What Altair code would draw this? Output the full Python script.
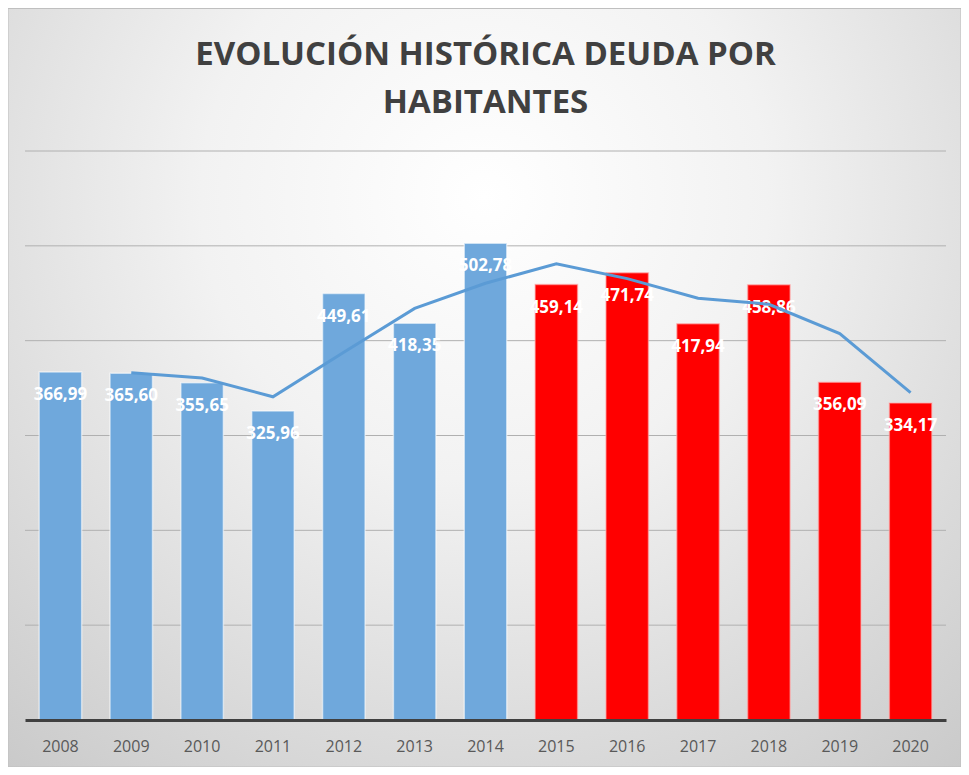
import altair as alt
import pandas as pd

anios = ["2008", "2009", "2010", "2011", "2012", "2013", "2014",
         "2015", "2016", "2017", "2018", "2019", "2020"]
deuda = [366.99, 365.60, 355.65, 325.96, 449.61, 418.35, 502.78,
         459.14, 471.74, 417.94, 458.86, 356.09, 334.17]
periodo = ["A"] * 7 + ["B"] * 6
etiquetas = ["366,99", "365,60", "355,65", "325,96", "449,61", "418,35", "502,78",
             "459,14", "471,74", "417,94", "458,86", "356,09", "334,17"]
lineas_guia = [100, 200, 300, 400, 500, 600]

df = pd.DataFrame({"anio": anios, "deuda": deuda, "periodo": periodo, "etiqueta": etiquetas})
grid_df = pd.DataFrame({"v": lineas_guia})

W, H = 921, 569
PL, PT, PR, PB = 17, 143, 15, 47

xenc = alt.X("anio:N", sort=anios,
             scale=alt.Scale(paddingInner=0.4, paddingOuter=0.2),
             axis=alt.Axis(title=None, labelAngle=0, ticks=False, domainColor="#404040",
                           domainWidth=3, labelColor="#595959", labelFont="Open Sans",
                           labelFontSize=16, labelPadding=18, zindex=1))
yscale = alt.Scale(domain=[0, 600], nice=False, zero=True)

fondo = alt.Chart(alt.Data(values=[{}])).mark_rect(
    fill={"gradient": "radial",
          "x1": 0.5, "y1": 0.3, "r1": 0.0,
          "x2": 0.5, "y2": 0.3, "r2": 0.85,
          "stops": [{"offset": 0, "color": "#FFFFFF"},
                    {"offset": 0.35, "color": "#F2F2F2"},
                    {"offset": 1, "color": "#C4C4C4"}]},
    stroke="#BFBFBF", strokeWidth=1
).encode(x=alt.value(-PL), x2=alt.value(W + PR), y=alt.value(-PT + 0.5), y2=alt.value(H + PB))

guia = alt.Chart(grid_df).mark_rule(color="#B0B0B0", strokeWidth=1).encode(
    y=alt.Y("v:Q", scale=yscale, axis=None)
)

barras = alt.Chart(df).mark_bar(strokeWidth=1.5, strokeOpacity=0.55).encode(
    x=xenc,
    y=alt.Y("deuda:Q", scale=yscale, axis=None),
    color=alt.Color("periodo:N", scale=alt.Scale(domain=["A", "B"], range=["#6FA8DC", "#FF0000"]), legend=None),
    stroke=alt.Stroke("periodo:N", scale=alt.Scale(domain=["A", "B"], range=["#FFFFFF", "#FFB0B0"]), legend=None),
)

textos = alt.Chart(df).mark_text(color="white", font="Open Sans", fontWeight="bold",
                                 fontSize=17, baseline="middle", dy=23).encode(
    x=alt.X("anio:N", sort=anios),
    y=alt.Y("deuda:Q", scale=yscale),
    text="etiqueta:N",
)

linea = alt.Chart(df).transform_window(
    media="mean(deuda)", frame=[-1, 0], sort=[alt.SortField("anio")]
).transform_filter(alt.datum.anio != "2008").mark_line(color="#5B9BD5", strokeWidth=3).encode(
    x=alt.X("anio:N", sort=anios),
    y=alt.Y("media:Q", scale=yscale),
)

chart = alt.layer(fondo, guia, barras, textos, linea).properties(
    width=W, height=H,
    title=alt.TitleParams(["EVOLUCIÓN HISTÓRICA DEUDA POR", "HABITANTES"],
                          font="Open Sans", fontSize=33, fontWeight="bold", color="#404040",
                          lineHeight=48, anchor="middle", offset=0, dy=112),
    autosize=alt.AutoSizeParams(type="none"),
    padding={"left": PL, "top": PT, "right": PR, "bottom": PB},
).configure_view(stroke=None)

chart.save("out.html", embed_options={"renderer": "svg", "actions": False})
